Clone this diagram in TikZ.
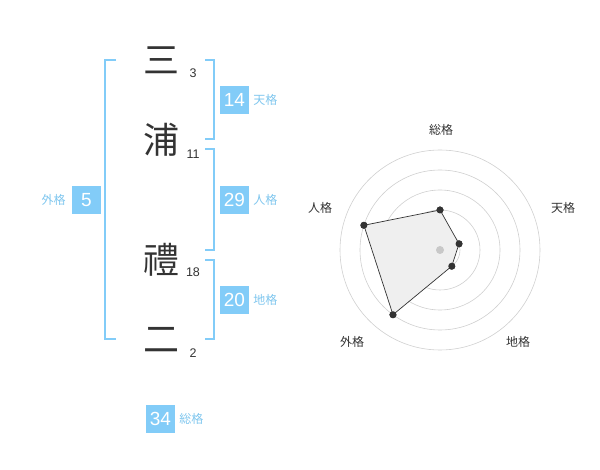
\documentclass[tikz,border=0pt]{standalone}
\usepackage{fontspec}
\setmainfont{Liberation Sans}
\newfontfamily\jpfont{Noto Sans CJK JP}
\usepackage{tikz}
\usepackage{xcolor}
\usetikzlibrary{positioning}
\definecolor{kakublue}{HTML}{82CCF8}
\definecolor{kakutext}{HTML}{7FC6EE}
\definecolor{ink}{HTML}{333333}
\definecolor{ringgray}{HTML}{CFCFCF}
\definecolor{polyfill}{HTML}{EFEFEF}
\definecolor{centergray}{HTML}{C8C8C8}

\begin{document}
\begin{tikzpicture}[x=1pt, y=-1pt,
    kanji/.style={font=\jpfont\fontsize{36}{36}\selectfont, text=ink, inner sep=0pt},
    strokes/.style={font=\fontsize{12.5}{12.5}\selectfont, text=ink, inner sep=0pt},
    numbox/.style={fill=kakublue, text=white, minimum width=29pt, minimum height=28pt, inner sep=0pt, font=\fontsize{19}{19}\selectfont},
    kaku/.style={font=\jpfont\fontsize{12}{12}\selectfont, text=kakutext, inner sep=0pt},
    bracket/.style={draw=kakublue, line width=2pt},
    ring/.style={draw=ringgray, line width=0.6pt},
    axislabel/.style={font=\jpfont\fontsize{12}{12}\selectfont, text=ink, inner sep=0pt},
    dot/.style={circle, fill=ink, inner sep=0pt, minimum size=7pt}]
    \useasboundingbox (0,0) rectangle (600,470);

    % name
    \node[kanji] (san) at (161,60) {三};
    \node[kanji] (ura) at (161,140) {浦};
    \node[kanji] (rei) at (161,260) {禮};
    \node[kanji] (ni) at (161,340) {二};
    \node[strokes] (sanstrokes) at (193,73) {3};
    \node[strokes] (urastrokes) at (193,154) {11};
    \node[strokes] (reistrokes) at (193,272) {18};
    \node[strokes] (nistrokes) at (193,353) {2};

    % brackets
    \draw[bracket] (116,60) -- (105,60) -- (105,339) -- (116,339);
    \draw[bracket] (205,60) -- (214,60) -- (214,139) -- (205,139);
    \draw[bracket] (205,149) -- (214,149) -- (214,250) -- (205,250);
    \draw[bracket] (205,260) -- (214,260) -- (214,339) -- (205,339);

    % scores
    \node[numbox] (ten) at (234.5,100) {14};
    \node[kaku, right=4pt of ten] (tenlabel) {天格};
    \node[numbox] (jin) at (234.5,200) {29};
    \node[kaku, right=4pt of jin] (jinlabel) {人格};
    \node[numbox] (chi) at (234.5,300) {20};
    \node[kaku, right=4pt of chi] (chilabel) {地格};
    \node[numbox] (gai) at (86.5,200) {5};
    \node[kaku, left=6pt of gai] (gailabel) {外格};
    \node[numbox] (sou) at (160.5,419) {34};
    \node[kaku, right=4pt of sou] (soulabel) {総格};

    % radar
    \begin{scope}[shift={(440,250)}]
        \foreach \r in {20,40,60,80,100}
            \draw[ring] (0,0) circle (\r);
        \node[dot] (psou) at (-90:40) {};
        \node[dot] (pten) at (-18:20) {};
        \node[dot] (pchi) at (54:20) {};
        \node[dot] (pgai) at (126:80) {};
        \node[dot] (pjin) at (198:80) {};
        \fill[polyfill] (psou.center) -- (pten.center) -- (pchi.center) -- (pgai.center) -- (pjin.center) -- cycle;
        \draw[ink, line width=0.7pt] (psou.center) -- (pten.center) -- (pchi.center) -- (pgai.center) -- (pjin.center) -- cycle;
        \node[dot] at (psou) {};
        \node[dot] at (pten) {};
        \node[dot] at (pchi) {};
        \node[dot] at (pgai) {};
        \node[dot] at (pjin) {};
        \node[circle, fill=centergray, inner sep=0pt, minimum size=8pt] (mid) at (0,0) {};
        \node[axislabel] (asou) at (1,-120) {総格};
        \node[axislabel] (aten) at (123,-42) {天格};
        \node[axislabel] (achi) at (78,92) {地格};
        \node[axislabel] (agai) at (-88,92) {外格};
        \node[axislabel] (ajin) at (-120,-42) {人格};
    \end{scope}
\end{tikzpicture}
\end{document}
